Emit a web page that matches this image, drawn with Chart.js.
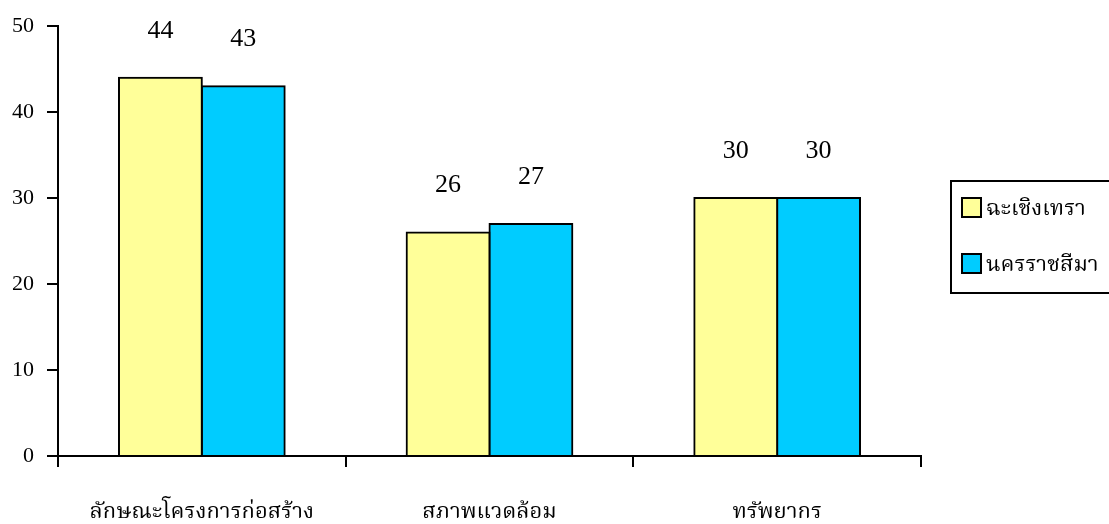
<!DOCTYPE html>
<html>
<head>
<meta charset="utf-8">
<script src="https://cdn.jsdelivr.net/npm/chart.js@4/dist/chart.umd.min.js"></script>
<style>
  html, body { margin: 0; padding: 0; background: #fff; }
  #wrap { width: 1109px; height: 524px; position: relative; }
</style>
</head>
<body>
<div id="wrap"><canvas id="chart"></canvas></div>
<script>
// data
const categories = ['ลักษณะโครงการก่อสร้าง', 'สภาพแวดล้อม', 'ทรัพยากร'];
const chachoengsao = [44, 26, 30];
const nakhonRatchasima = [43, 27, 30];
const seriesNames = ['ฉะเชิงเทรา', 'นครราชสีมา'];
const yTicks = [0, 10, 20, 30, 40, 50];

const thaiFont = '"Liberation Serif", "Noto Serif Thai", "Noto Sans Thai", serif';

// value labels above bars
const valueLabels = {
    id: 'valueLabels',
    afterDatasetsDraw(chart) {
        const ctx = chart.ctx;
        ctx.save();
        ctx.font = '26px ' + thaiFont;
        ctx.fillStyle = '#000';
        ctx.textAlign = 'center';
        ctx.textBaseline = 'middle';
        chart.data.datasets.forEach((ds, i) => {
            chart.getDatasetMeta(i).data.forEach((bar, j) => {
                ctx.fillText(String(ds.data[j]), bar.x, bar.y - 47);
            });
        });
        ctx.restore();
    }
};

// boxed legend on the right
const boxLegend = {
    id: 'boxLegend',
    afterDraw(chart) {
        const ctx = chart.ctx;
        ctx.save();
        ctx.strokeStyle = '#000';
        ctx.lineWidth = 2;
        ctx.strokeRect(951, 181, 200, 112);
        ctx.font = '22px ' + thaiFont;
        ctx.textBaseline = 'middle';
        ctx.textAlign = 'left';
        chart.data.datasets.forEach((ds, i) => {
            const y = 198 + i * 56;
            ctx.fillStyle = ds.backgroundColor;
            ctx.fillRect(962, y, 19, 19);
            ctx.strokeRect(962, y, 19, 19);
            ctx.fillStyle = '#000';
            ctx.fillText(ds.label, 986, y + 11);
        });
        ctx.restore();
    }
};

new Chart(document.getElementById('chart'), {
    type: 'bar',
    data: {
        labels: categories,
        datasets: [
            {
                label: seriesNames[0],
                data: chachoengsao,
                backgroundColor: '#FFFF99',
                borderColor: '#000',
                borderWidth: 2,
                inflateAmount: 1,
                categoryPercentage: 0.576,
                barPercentage: 1
            },
            {
                label: seriesNames[1],
                data: nakhonRatchasima,
                backgroundColor: '#00CCFF',
                borderColor: '#000',
                borderWidth: 2,
                inflateAmount: 1,
                categoryPercentage: 0.576,
                barPercentage: 1
            }
        ]
    },
    options: {
        responsive: true,
        maintainAspectRatio: false,
        animation: false,
        layout: { padding: { top: 25, right: 188, left: 0, bottom: 0 } },
        plugins: {
            legend: { display: false },
            tooltip: { enabled: false }
        },
        scales: {
            x: {
                offset: true,
                grid: {
                    display: true,
                    offset: true,
                    drawOnChartArea: false,
                    drawTicks: true,
                    tickLength: 11,
                    color: '#000',
                    lineWidth: 2
                },
                border: { display: true, color: '#000', width: 2 },
                ticks: {
                    color: '#000',
                    padding: 32,
                    maxRotation: 0,
                    font: { family: thaiFont, size: 22 }
                },
                afterFit(scale) { scale.height = 68; }
            },
            y: {
                min: 0,
                max: 50,
                afterBuildTicks(scale) {
                    scale.ticks = yTicks.map(v => ({ value: v }));
                },
                grid: {
                    display: true,
                    drawOnChartArea: false,
                    drawTicks: true,
                    tickLength: 11,
                    color: '#000',
                    lineWidth: 2
                },
                border: { display: true, color: '#000', width: 2 },
                ticks: {
                    color: '#000',
                    padding: 13,
                    font: { family: '"Liberation Serif", serif', size: 22 }
                },
                afterFit(scale) { scale.width = 58; }
            }
        }
    },
    plugins: [valueLabels, boxLegend]
});
</script>
</body>
</html>
